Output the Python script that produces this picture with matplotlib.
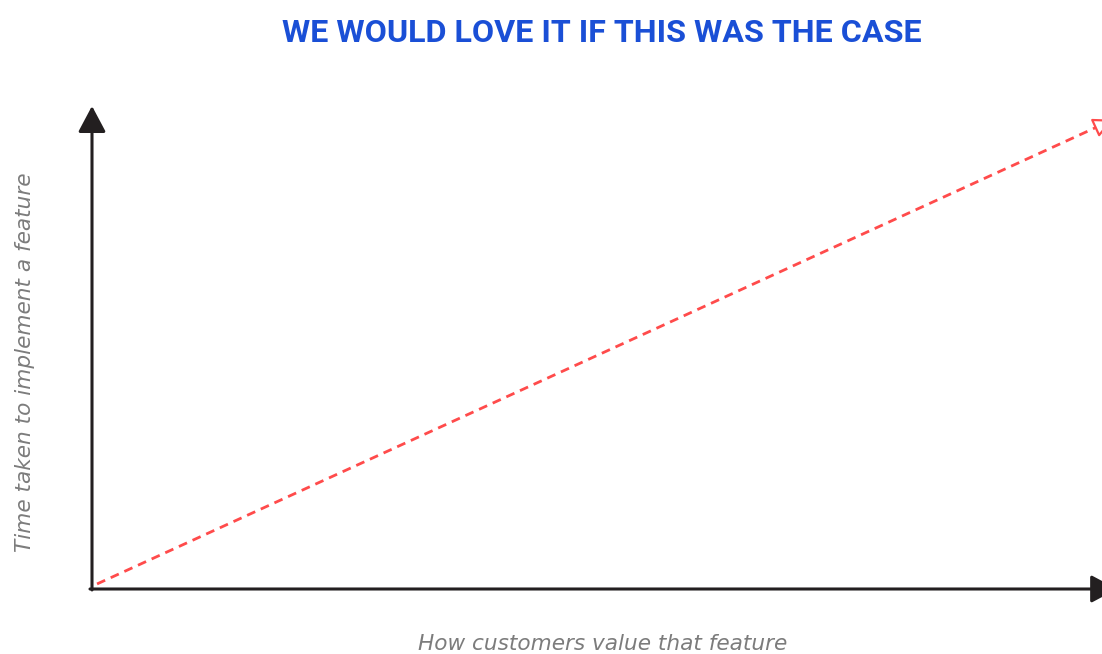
import numpy as np
import matplotlib.pyplot as plt

# the ideal case: time grows in step with customer value
customer_value = [0, 10]
time_taken = [0, 4.57]

title_text = 'WE WOULD LOVE IT IF THIS WAS THE CASE'
x_label = 'How customers value that feature'
y_label = 'Time taken to implement a feature'

W, H = 1102, 654
fig = plt.figure(figsize=(W / 100, H / 100), dpi=100)

# axes origin sits at pixel (92, 589), y arrow tip at 106, x runs off the right edge
x0, y0, x1, y1 = 92, 589, 1102, 106
ax = fig.add_axes([x0 / W, (H - y0) / H, (x1 - x0) / W, (y0 - y1) / H])
ax.set_xlim(0, 10)
ax.set_ylim(0, 10 * (y0 - y1) / (x1 - x0))
ax.axis('off')

# axis lines with solid arrow heads
axis_kw = dict(arrowstyle='-|>,head_length=1.6,head_width=0.85', color='#231f20',
               lw=2.2, shrinkA=0, shrinkB=0)
ax.annotate('', xy=(0, 1), xytext=(0, -0.002), xycoords='axes fraction',
            arrowprops=axis_kw, annotation_clip=False)
ax.annotate('', xy=(1.015, 0), xytext=(-0.002, 0), xycoords='axes fraction',
            arrowprops=axis_kw, annotation_clip=False)

# dashed red line, with an open arrow head at the end
red = '#ff4b4b'
xs = np.array(customer_value, dtype=float) + 0.05
ys = np.array(time_taken, dtype=float) + 0.05
slope = (ys[-1] - ys[0]) / (xs[-1] - xs[0])
ax.plot(xs, ys, color=red, lw=2, ls=(0, (3.2, 2.2)), clip_on=False)
head_start, head_end = xs[-1] - 0.12, xs[-1] + 0.06
ax.annotate('', xy=(head_end, ys[-1] + slope * 0.06),
            xytext=(head_start, ys[-1] - slope * 0.12),
            arrowprops=dict(arrowstyle='-|>,head_length=1.2,head_width=0.6',
                            color=red, fc='white', lw=1.6, shrinkA=0, shrinkB=0),
            annotation_clip=False)

fig.text(602 / W, 1 - 33 / H, title_text, ha='center', va='center',
         fontsize=23.2, fontweight='bold', color='#1a4fd6', family='Roboto')
fig.text(603 / W, 1 - 644 / H, x_label, ha='center', va='center',
         fontsize=15.6, style='italic', color='#7c7c7c', family='DejaVu Sans')
fig.text(25 / W, 1 - 362 / H, y_label, ha='center', va='center', rotation=90,
         fontsize=15.6, style='italic', color='#7c7c7c', family='DejaVu Sans')

plt.savefig('out.png', dpi=100)
